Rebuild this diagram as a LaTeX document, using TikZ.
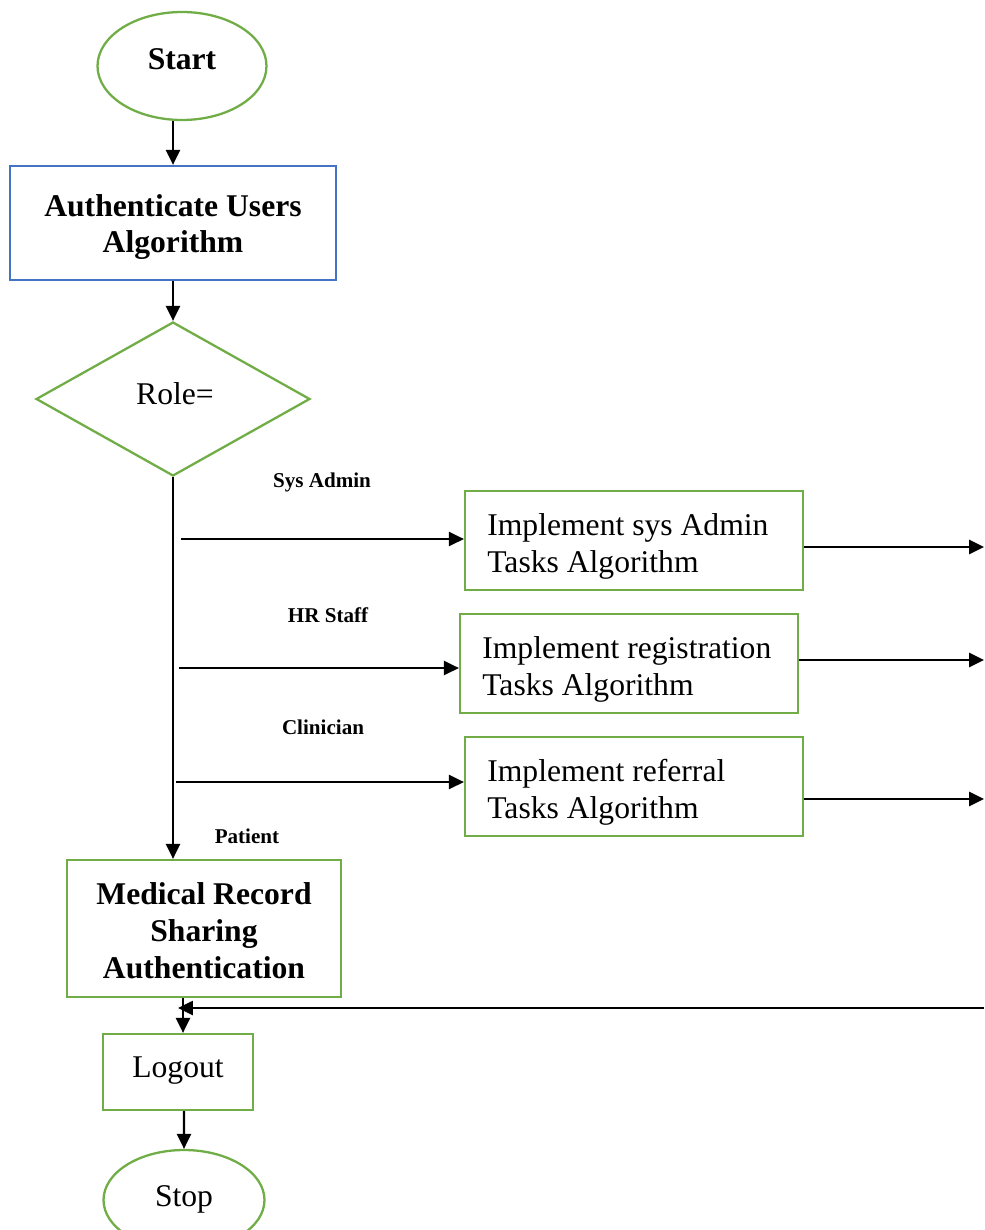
\documentclass[tikz,border=0pt]{standalone}
\usepackage{fontspec}
\setmainfont{Liberation Serif}
\usetikzlibrary{shapes.geometric,arrows.meta}
\definecolor{flowgreen}{HTML}{70AD47}
\definecolor{flowblue}{HTML}{4472C4}
\begin{document}
\begin{tikzpicture}[x=0.02cm,y=-0.02cm,
  big/.style={font=\fontsize{18}{21}\selectfont},
  bigb/.style={font=\fontsize{18}{21}\selectfont\bfseries},
  lab/.style={font=\fontsize{12}{14}\selectfont\bfseries},
  outline/.style={draw=flowgreen,line width=1.3pt,inner sep=0pt},
  gbox/.style={outline,rectangle},
  oval/.style={outline,ellipse},
  arr/.style={draw=black,line width=1.3pt,-{Triangle[length=8.5pt,width=8pt]}},
  ]
\clip (0,0) rectangle (984,1230);

% terminals and process boxes
\node[oval,minimum width=3.38cm,minimum height=2.16cm] (start) at (182,66) {};
\node[bigb] (starttxt) at (182,59) {Start};

\node[draw=flowblue,line width=1.3pt,inner sep=0pt,minimum width=6.52cm,
      minimum height=2.28cm] (auth) at (173,223) {};
\node[bigb,align=center] (authtxt) at (173,227) {Authenticate Users\\Algorithm};

\node[diamond,outline,minimum width=5.48cm,minimum height=3.08cm] (role) at (173,399) {};
\node[big] (roletxt) at (175,394) {Role=};

\node[gbox,minimum width=6.76cm,minimum height=1.98cm] (sysadm) at (634,540.5) {};
\node[big,anchor=west,align=left,inner sep=0pt] (sysadmtxt) at (487,546)
      {Implement sys Admin\\Tasks Algorithm};

\node[gbox,minimum width=6.76cm,minimum height=1.98cm] (regist) at (629,663.5) {};
\node[big,anchor=west,align=left,inner sep=0pt] (registtxt) at (482,669)
      {Implement registration\\Tasks Algorithm};

\node[gbox,minimum width=6.76cm,minimum height=1.98cm] (referral) at (634,786.5) {};
\node[big,anchor=west,align=left,inner sep=0pt] (referraltxt) at (487,792)
      {Implement referral\\Tasks Algorithm};

\node[gbox,minimum width=5.48cm,minimum height=2.74cm] (med) at (204,928.5) {};
\node[bigb,align=center] (medtxt) at (204,931) {Medical Record\\Sharing\\Authentication};

\node[gbox,minimum width=3cm,minimum height=1.52cm] (logout) at (178,1072) {};
\node[big] (logouttxt) at (178,1071) {Logout};

\node[oval,minimum width=3.22cm,minimum height=2cm] (stop) at (184,1200) {};
\node[big] (stoptxt) at (184,1199) {Stop};

% branch labels
\node[lab] (lsys) at (322,482) {Sys Admin};
\node[lab] (lhr) at (328,615) {HR Staff};
\node[lab] (lclin) at (323,727) {Clinician};
\node[lab] (lpat) at (247,836) {Patient};

% main flow
\draw[arr] (start.south -| auth.north) -- (auth.north);
\draw[arr] (auth.south) -- (role.north);
\draw[arr] (role.south) -- (role.south |- med.north);

% role branches
\coordinate (s1) at (181,539);
\coordinate (s2) at (179,668);
\coordinate (s3) at (176,782);
\draw[arr] (s1) -- (s1 -| sysadm.west);
\draw[arr] (s2) -- (s2 -| regist.west);
\draw[arr] (s3) -- (s3 -| referral.west);

% outgoing arrows to the right edge
\coordinate (e1) at (984,547);
\coordinate (e2) at (984,660);
\coordinate (e3) at (984,799);
\draw[arr] (sysadm.east |- e1) -- (e1);
\draw[arr] (regist.east |- e2) -- (e2);
\draw[arr] (referral.east |- e3) -- (e3);

% return line into logout
\coordinate (ret) at (984,1008);
\draw[arr] (ret) -- (ret -| logout.north);

\draw[arr] ([xshift=0.1cm]med.south -| logout.north) -- ([xshift=0.1cm]logout.north);
\draw[arr] ([xshift=0.12cm]logout.south) -- (stop.north);
\end{tikzpicture}
\end{document}
